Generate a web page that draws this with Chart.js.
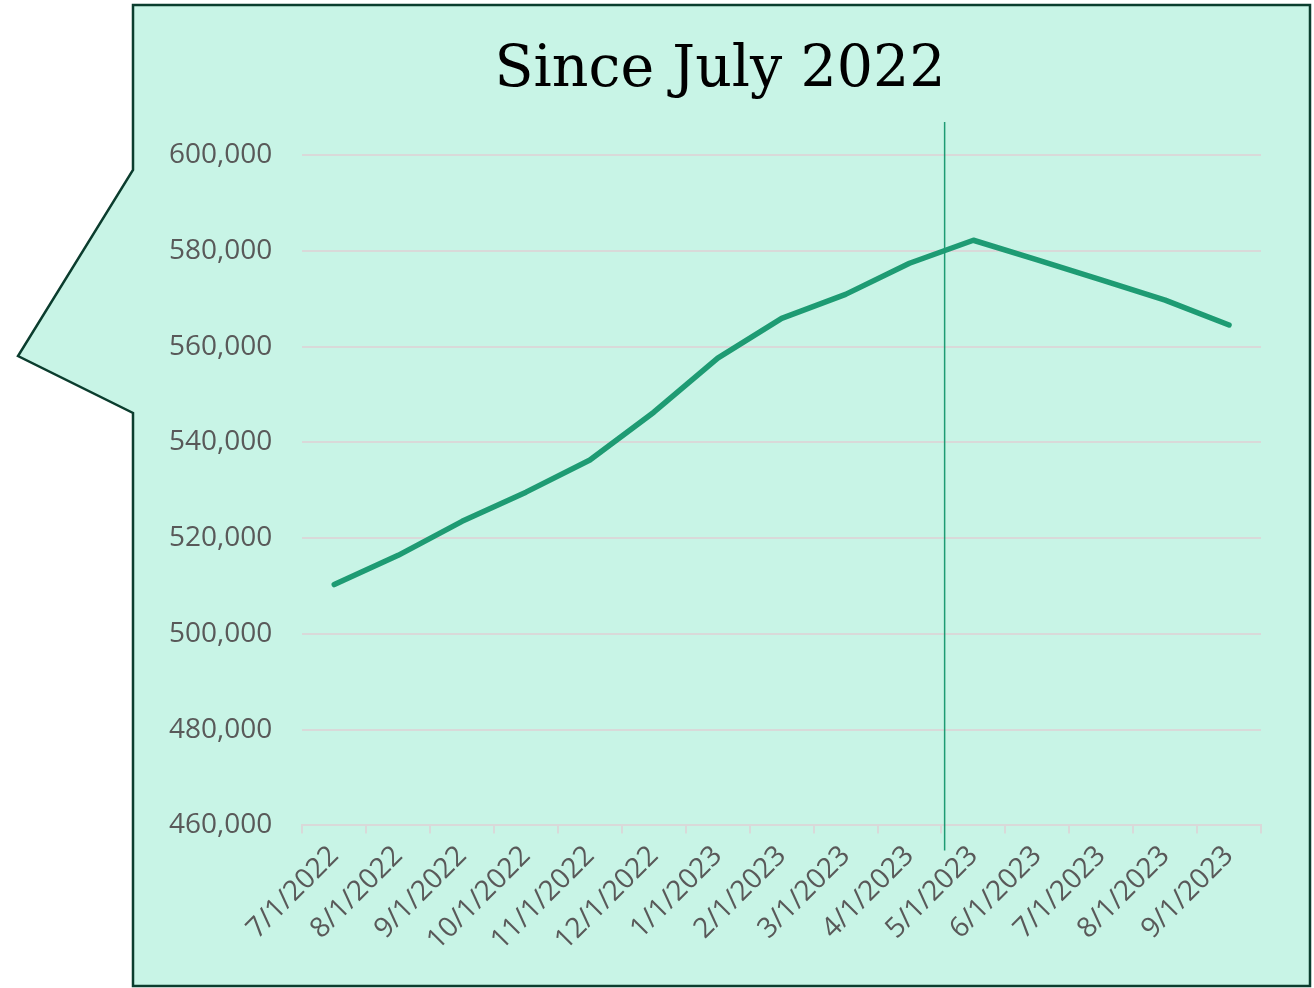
<!DOCTYPE html>
<html lang="en">
<head>
    <meta charset="UTF-8">
    <title>Since July 2022</title>
    <script src="https://cdn.jsdelivr.net/npm/chart.js"></script>
    <style>
        body {
            margin: 0;
            background: #ffffff;
        }
        #wrap {
            width: 1314px;
            height: 988px;
        }
    </style>
</head>
<body>
    <div id="wrap">
        <canvas id="salesChart" width="1314" height="988"></canvas>
    </div>

    <script>
        // Monthly series
        const months = [
            '7/1/2022', '8/1/2022', '9/1/2022', '10/1/2022', '11/1/2022', '12/1/2022',
            '1/1/2023', '2/1/2023', '3/1/2023', '4/1/2023', '5/1/2023', '6/1/2023',
            '7/1/2023', '8/1/2023', '9/1/2023'
        ];
        const values = [
            510300, 516400, 523500, 529600, 536300, 546300,
            557600, 565900, 570900, 577400, 582200, 578100,
            573900, 569700, 564500
        ];
        const yMin = 460000;
        const yMax = 600000;
        const yStep = 20000;
        const titleText = 'Since July 2022';

        // marker sits between Apr and May 2023
        const markerAt = 9.55;

        const fill = '#c8f4e6';
        const edge = '#0b3d2e';
        const green = '#1e9b73';
        const tickColor = '#595959';
        const gridColor = '#d9d9d9';

        // callout box with a pointer on the left side, plus its heading
        const calloutBox = {
            id: 'calloutBox',
            beforeDraw(chart) {
                const ctx = chart.ctx;
                ctx.save();
                ctx.beginPath();
                ctx.moveTo(133, 5);
                ctx.lineTo(1310, 5);
                ctx.lineTo(1310, 986);
                ctx.lineTo(133, 986);
                ctx.lineTo(133, 413);
                ctx.lineTo(18, 356);
                ctx.lineTo(133, 170);
                ctx.closePath();
                ctx.fillStyle = fill;
                ctx.fill();
                ctx.lineWidth = 2.5;
                ctx.strokeStyle = edge;
                ctx.stroke();

                ctx.fillStyle = '#000000';
                ctx.font = '57px "DejaVu Serif"';
                ctx.textAlign = 'center';
                ctx.textBaseline = 'alphabetic';
                ctx.fillText(titleText, 720, 86);
                ctx.restore();
            }
        };

        const markerLine = {
            id: 'markerLine',
            afterDatasetsDraw(chart) {
                const ctx = chart.ctx;
                const area = chart.chartArea;
                const x = chart.scales.x.getPixelForValue(markerAt);
                ctx.save();
                ctx.beginPath();
                ctx.moveTo(x, area.top - 33);
                ctx.lineTo(x, area.bottom + 25);
                ctx.lineWidth = 1.5;
                ctx.strokeStyle = green;
                ctx.stroke();
                ctx.restore();
            }
        };

        new Chart(document.getElementById('salesChart'), {
            type: 'line',
            data: {
                labels: months,
                datasets: [{
                    data: values,
                    borderColor: green,
                    borderWidth: 5.5,
                    borderCapStyle: 'round',
                    borderJoinStyle: 'round',
                    pointRadius: 0,
                    tension: 0
                }]
            },
            options: {
                responsive: false,
                animation: false,
                layout: {
                    padding: { left: 139, right: 53, top: 155, bottom: 25 }
                },
                plugins: {
                    legend: { display: false },
                    tooltip: { enabled: false },
                    title: { display: false }
                },
                scales: {
                    x: {
                        offset: true,
                        grid: {
                            offset: true,
                            drawOnChartArea: false,
                            drawTicks: true,
                            tickLength: 8,
                            color: gridColor,
                            lineWidth: 2
                        },
                        border: { color: gridColor, width: 2 },
                        ticks: {
                            color: tickColor,
                            font: { family: 'Open Sans', size: 28 },
                            maxRotation: 45,
                            minRotation: 45,
                            padding: 6,
                            autoSkip: false
                        }
                    },
                    y: {
                        min: yMin,
                        max: yMax,
                        grid: {
                            color: gridColor,
                            lineWidth: 2,
                            drawTicks: false
                        },
                        border: { display: false },
                        ticks: {
                            stepSize: yStep,
                            color: tickColor,
                            font: { family: 'Open Sans', size: 28 },
                            padding: 30,
                            callback: v => v.toLocaleString('en-US')
                        }
                    }
                }
            },
            plugins: [calloutBox, markerLine]
        });
    </script>
</body>
</html>
